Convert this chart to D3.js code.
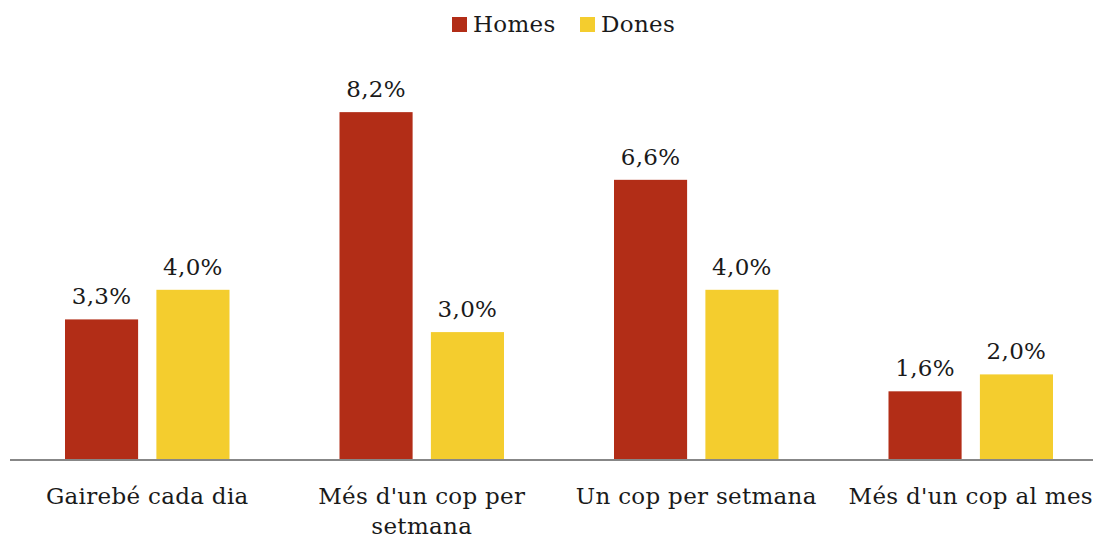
<!DOCTYPE html>
<html>
<head>
<meta charset="utf-8">
<script src="https://cdn.jsdelivr.net/npm/d3@7"></script>
<style>
  body { margin: 0; background: #fff; }
  svg text { font-family: "DejaVu Serif", serif; fill: #1a1a1a; letter-spacing: 0.3px; }
</style>
</head>
<body>
<div id="chart"></div>
<script>
// chart data
const categories = ["Gairebé cada dia", "Més d'un cop per setmana", "Un cop per setmana", "Més d'un cop al mes"];
const seriesNames = ["Homes", "Dones"];
const homes = [3.3, 8.2, 6.6, 1.6];
const dones = [4.0, 3.0, 4.0, 2.0];
const colors = ["#B22D17", "#F4CD2E"];

const width = 1093, height = 539;
const baseY = 459;
const fontSize = 23;

const svg = d3.select("#chart").append("svg")
    .attr("width", width)
    .attr("height", height);

// x: one band per category, inner band per series
const x0 = d3.scaleBand().domain(categories).range([10, 1108]);
const x1 = d3.scaleBand().domain(seriesNames)
    .range([55, x0.bandwidth() - 55])
    .paddingInner(0.2);

const y = d3.scaleLinear().domain([0, 9]).range([baseY, baseY - 9 * 42.3]);

const fmt = v => d3.format(".1f")(v).replace(".", ",") + "%";

const rows = categories.map((c, i) => ({ cat: c, values: [homes[i], dones[i]] }));

const groups = svg.selectAll("g.cat")
    .data(rows)
    .join("g")
    .attr("class", "cat")
    .attr("transform", d => `translate(${x0(d.cat)},0)`);

const bars = groups.selectAll("g.bar")
    .data(d => d.values.map((v, j) => ({ name: seriesNames[j], value: v, idx: j })))
    .join("g")
    .attr("class", "bar");

bars.append("rect")
    .attr("x", d => x1(d.name))
    .attr("y", d => y(d.value))
    .attr("width", x1.bandwidth())
    .attr("height", d => baseY - y(d.value))
    .attr("fill", d => colors[d.idx]);

bars.append("text")
    .attr("x", d => x1(d.name) + x1.bandwidth() / 2)
    .attr("y", d => y(d.value) - 15)
    .attr("text-anchor", "middle")
    .attr("font-size", fontSize)
    .text(d => fmt(d.value));

// baseline
svg.append("line")
    .attr("x1", 10).attr("x2", width)
    .attr("y1", baseY + 1).attr("y2", baseY + 1)
    .attr("stroke", "#878787")
    .attr("stroke-width", 2);

// category labels, wrapped
function wrapWords(label, maxW, size) {
    const tmp = svg.append("text").attr("font-size", size);
    const words = label.split(" ");
    const lines = [];
    let cur = [];
    words.forEach(w => {
        const test = cur.concat([w]).join(" ");
        tmp.text(test);
        if (tmp.node().getComputedTextLength() > maxW && cur.length) {
            lines.push(cur.join(" "));
            cur = [w];
        } else {
            cur.push(w);
        }
    });
    lines.push(cur.join(" "));
    tmp.remove();
    return lines;
}

categories.forEach(c => {
    const lines = wrapWords(c, 265, fontSize);
    const t = svg.append("text")
        .attr("x", x0(c) + x0.bandwidth() / 2)
        .attr("y", 504)
        .attr("text-anchor", "middle")
        .attr("font-size", fontSize);
    lines.forEach((ln, k) => {
        t.append("tspan")
            .attr("x", x0(c) + x0.bandwidth() / 2)
            .attr("dy", k === 0 ? 0 : 30)
            .text(ln);
    });
});

// legend
const legend = svg.append("g");
const legendX = [452, 580];
seriesNames.forEach((s, i) => {
    legend.append("rect")
        .attr("x", legendX[i]).attr("y", 17)
        .attr("width", 15).attr("height", 15)
        .attr("fill", colors[i]);
    legend.append("text")
        .attr("x", legendX[i] + 21)
        .attr("y", 32)
        .attr("font-size", fontSize)
        .text(s);
});
</script>
</body>
</html>
